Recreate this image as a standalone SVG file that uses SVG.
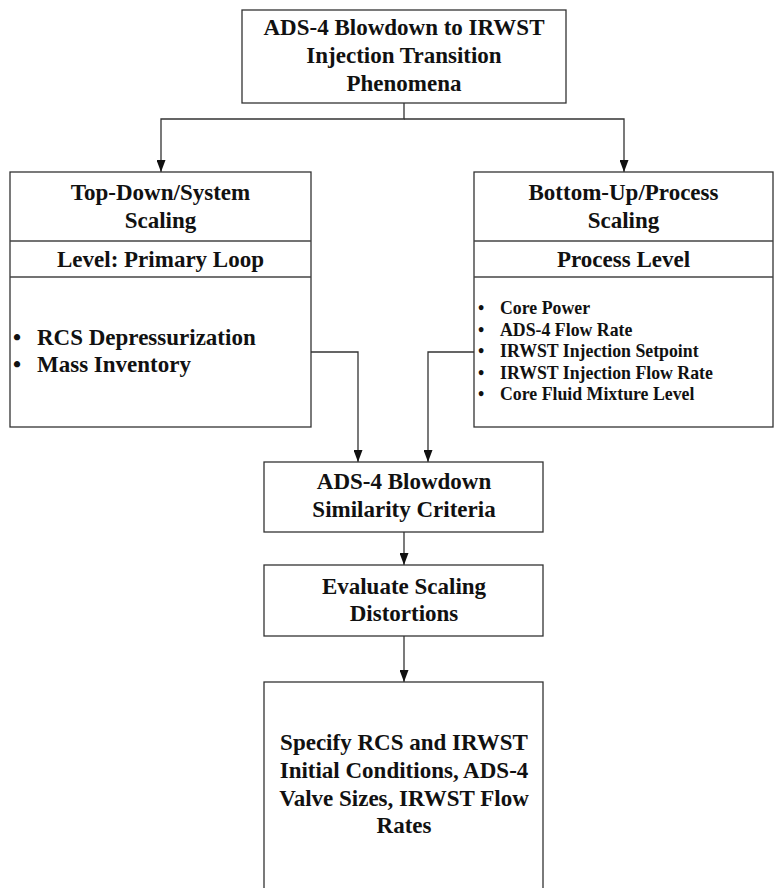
<svg xmlns="http://www.w3.org/2000/svg" width="775" height="888" viewBox="0 0 775 888">
<style>
.box{fill:#fff;stroke:#333;stroke-width:1.3}
.div{stroke:#444;stroke-width:1.6}
.t{font-family:"Liberation Serif","Times New Roman",serif;font-weight:bold;font-size:23px;fill:#111;text-anchor:middle}
.b{font-family:"Liberation Serif","Times New Roman",serif;font-weight:bold;font-size:23px;fill:#111}
.s{font-family:"Liberation Serif","Times New Roman",serif;font-weight:bold;font-size:17.8px;fill:#111}
.c{fill:none;stroke:#333;stroke-width:1.3}
</style>
<defs>
<marker id="arr" markerUnits="userSpaceOnUse" markerWidth="12" markerHeight="9" refX="12" refY="4.5" orient="auto">
<path d="M0,0 L12,4.5 L0,9 z" fill="#111"/>
</marker>
</defs>
<rect width="775" height="888" fill="#fff"/>
<g id="connectors">
<path class="c" d="M404,103 V119 H161 V172" marker-end="url(#arr)"/>
<path class="c" d="M404,119 H624 V172" marker-end="url(#arr)"/>
<path class="c" d="M311,352 H358 V462" marker-end="url(#arr)"/>
<path class="c" d="M474,352 H428 V462" marker-end="url(#arr)"/>
<path class="c" d="M404,532 V565" marker-end="url(#arr)"/>
<path class="c" d="M404,636 V682" marker-end="url(#arr)"/>
</g>
<g id="phenomena">
<rect class="box" x="242" y="10" width="324" height="93"/>
<text class="t" x="404" y="35">ADS-4 Blowdown to IRWST</text>
<text class="t" x="404" y="63">Injection Transition</text>
<text class="t" x="404" y="91">Phenomena</text>
</g>
<g id="topdown">
<rect class="box" x="10" y="172" width="301" height="255"/>
<line class="div" x1="10" y1="241" x2="311" y2="241"/>
<line class="div" x1="10" y1="277" x2="311" y2="277"/>
<text class="t" x="160.5" y="200">Top-Down/System</text>
<text class="t" x="160.5" y="228">Scaling</text>
<text class="t" x="160.5" y="267">Level: Primary Loop</text>
<text class="b" x="13" y="345">•</text>
<text class="b" x="37" y="345">RCS Depressurization</text>
<text class="b" x="13" y="372">•</text>
<text class="b" x="37" y="372">Mass Inventory</text>
</g>
<g id="bottomup">
<rect class="box" x="474" y="172" width="299" height="255"/>
<line class="div" x1="474" y1="241" x2="773" y2="241"/>
<line class="div" x1="474" y1="277" x2="773" y2="277"/>
<text class="t" x="623.5" y="200">Bottom-Up/Process</text>
<text class="t" x="623.5" y="228">Scaling</text>
<text class="t" x="623.5" y="267">Process Level</text>
<text class="s" x="478" y="314">•</text>
<text class="s" x="500" y="314">Core Power</text>
<text class="s" x="478" y="335.5">•</text>
<text class="s" x="500" y="335.5">ADS-4 Flow Rate</text>
<text class="s" x="478" y="357">•</text>
<text class="s" x="500" y="357">IRWST Injection Setpoint</text>
<text class="s" x="478" y="378.5">•</text>
<text class="s" x="500" y="378.5">IRWST Injection Flow Rate</text>
<text class="s" x="478" y="400">•</text>
<text class="s" x="500" y="400">Core Fluid Mixture Level</text>
</g>
<g id="similarity">
<rect class="box" x="264" y="462" width="279" height="70"/>
<text class="t" x="404" y="489">ADS-4 Blowdown</text>
<text class="t" x="404" y="517">Similarity Criteria</text>
</g>
<g id="evaluate">
<rect class="box" x="264" y="565" width="279" height="71"/>
<text class="t" x="404" y="594">Evaluate Scaling</text>
<text class="t" x="404" y="621">Distortions</text>
</g>
<g id="specify">
<rect class="box" x="264" y="682" width="279" height="220"/>
<text class="t" x="404" y="750">Specify RCS and IRWST</text>
<text class="t" x="404" y="778">Initial Conditions, ADS-4</text>
<text class="t" x="404" y="806">Valve Sizes, IRWST Flow</text>
<text class="t" x="404" y="833">Rates</text>
</g>
</svg>
